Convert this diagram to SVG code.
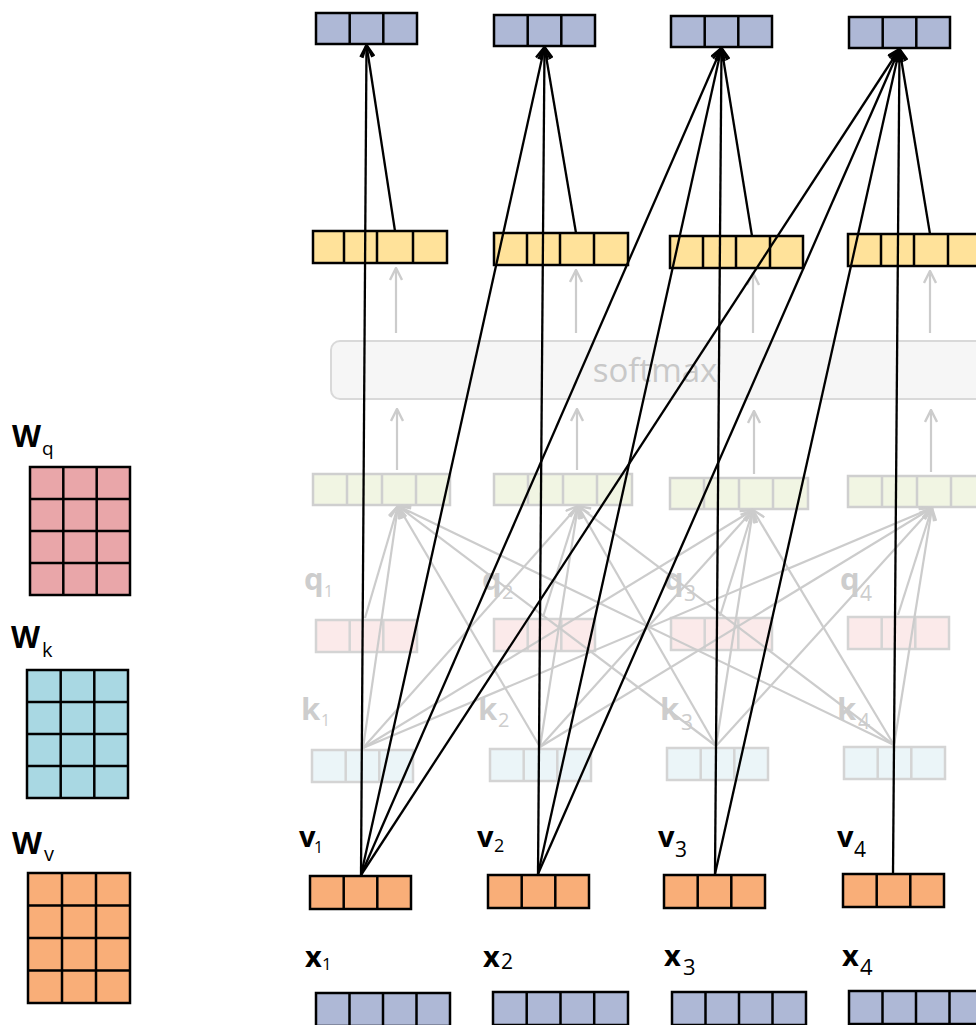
<svg xmlns="http://www.w3.org/2000/svg" width="976" height="1025" viewBox="0 0 976 1025">
<style>
.bk{stroke:#000;stroke-width:2.5}
.bl{fill:#aeb8d6}
.ye{fill:#ffe29a}
.or{fill:#f9ae78}
.pk{fill:#e9a6a9}
.cy{fill:#a9d8e3}
.fg{fill:#f1f5e3;stroke:#cfcfcf;stroke-width:2.5}
.fp{fill:#fbeaea;stroke:#d4d4d4;stroke-width:2.5}
.fk{fill:#ebf5f8;stroke:#d4d4d4;stroke-width:2.5}
.lb{font-family:"Open Sans","DejaVu Sans",sans-serif;font-weight:bold;fill:#000}
.sb{font-family:"Open Sans","DejaVu Sans",sans-serif;fill:#000}
.gl{font-family:"Open Sans","DejaVu Sans",sans-serif;font-weight:bold;fill:#cdcdcd;font-size:31px}
.gs{font-family:"Open Sans","DejaVu Sans",sans-serif;fill:#cdcdcd}
.cb line{stroke:#000;stroke-width:2.3;marker-end:url(#ab)}
.cg line{stroke:#cccccc;stroke-width:2.2;marker-end:url(#ag)}
</style>
<defs>
<marker id="ab" viewBox="0 0 14 14" refX="13" refY="7" markerWidth="14" markerHeight="14" markerUnits="userSpaceOnUse" orient="auto"><path d="M1,1 L13,7 L1,13" fill="none" stroke="#000" stroke-width="2.4"/></marker>
<marker id="ag" viewBox="0 0 14 14" refX="13" refY="7" markerWidth="14" markerHeight="14" markerUnits="userSpaceOnUse" orient="auto"><path d="M1,1 L13,7 L1,13" fill="none" stroke="#cccccc" stroke-width="2.4"/></marker>
</defs>
<rect width="976" height="1025" fill="#fff"/>

<!-- weight matrices -->
<g id="Wq">
<text class="lb" x="12" y="447" font-size="30">W</text><text class="sb" x="42" y="455" font-size="19">q</text>
<rect class="pk bk" x="30" y="467" width="100" height="128"/>
<path class="bk" fill="none" d="M63.3,467V595M96.7,467V595M30,499H130M30,531H130M30,563H130"/>
</g>
<g id="Wk">
<text class="lb" x="11" y="648" font-size="30">W</text><text class="sb" x="42" y="657" font-size="20">k</text>
<rect class="cy bk" x="27" y="670" width="101" height="128"/>
<path class="bk" fill="none" d="M60.7,670V798M94.3,670V798M27,702H128M27,734H128M27,766H128"/>
</g>
<g id="Wv">
<text class="lb" x="12" y="854" font-size="31">W</text><text class="sb" x="44" y="861" font-size="20">v</text>
<rect class="or bk" x="28" y="873" width="102" height="130"/>
<path class="bk" fill="none" d="M62,873V1003M96,873V1003M28,905.5H130M28,938H130M28,970.5H130"/>
</g>

<!-- outputs -->
<g id="y1"><rect class="bl bk" x="316" y="13" width="101" height="31"/><path class="bk" d="M349.7,13V44M383.3,13V44"/></g>
<g id="y2"><rect class="bl bk" x="494" y="15" width="101" height="31"/><path class="bk" d="M527.7,15V46M561.3,15V46"/></g>
<g id="y3"><rect class="bl bk" x="671" y="16" width="101" height="31"/><path class="bk" d="M704.7,16V47M738.3,16V47"/></g>
<g id="y4"><rect class="bl bk" x="849" y="17" width="101" height="31"/><path class="bk" d="M882.7,17V48M916.3,17V48"/></g>

<!-- weights (yellow) -->
<g id="w1"><rect class="ye bk" x="313" y="231" width="134" height="32"/><path class="bk" d="M344,231V263M377,231V263M413,231V263"/></g>
<g id="w2"><rect class="ye bk" x="494" y="233" width="134" height="32"/><path class="bk" d="M527,233V265M560,233V265M594,233V265"/></g>
<g id="w3"><rect class="ye bk" x="670" y="236" width="133" height="32"/><path class="bk" d="M703,236V268M736,236V268M770,236V268"/></g>
<g id="w4"><rect class="ye bk" x="848" y="234" width="134" height="32"/><path class="bk" d="M881,234V266M914,234V266M948,234V266"/></g>

<!-- softmax -->
<g id="softmax">
<rect x="331" y="341" width="660" height="58" rx="9" fill="#f6f6f6" stroke="#d9d9d9" stroke-width="2"/>
<text x="655" y="382" text-anchor="middle" font-family="Open Sans, DejaVu Sans, sans-serif" font-size="33" fill="#c8c8c8">softmax</text>
</g>

<!-- raw scores (green) -->
<g id="s1"><rect class="fg" x="313" y="474" width="137" height="31"/><path class="fg" d="M347,474V505M382,474V505M416,474V505"/></g>
<g id="s2"><rect class="fg" x="494" y="474" width="138" height="31"/><path class="fg" d="M528,474V505M563,474V505M597,474V505"/></g>
<g id="s3"><rect class="fg" x="670" y="478" width="138" height="31"/><path class="fg" d="M704,478V509M739,478V509M773,478V509"/></g>
<g id="s4"><rect class="fg" x="848" y="476" width="138" height="31"/><path class="fg" d="M882,476V507M917,476V507M951,476V507"/></g>

<!-- queries -->
<g id="q1"><text class="gl" x="304" y="590">q</text><text class="gs" x="324" y="597" font-size="16">1</text>
<rect class="fp" x="316" y="620" width="101" height="32"/><path class="fp" d="M349.7,620V652M383.3,620V652"/></g>
<g id="q2"><text class="gl" x="482" y="590">q</text><text class="gs" x="502" y="599" font-size="20">2</text>
<rect class="fp" x="494" y="619" width="101" height="32"/><path class="fp" d="M527.7,619V651M561.3,619V651"/></g>
<g id="q3"><text class="gl" x="664" y="590">q</text><text class="gs" x="684" y="601" font-size="21">3</text>
<rect class="fp" x="671" y="618" width="101" height="32"/><path class="fp" d="M704.7,618V650M738.3,618V650"/></g>
<g id="q4"><text class="gl" x="840" y="590">q</text><text class="gs" x="860" y="601" font-size="21">4</text>
<rect class="fp" x="848" y="617" width="101" height="32"/><path class="fp" d="M881.7,617V649M915.3,617V649"/></g>

<!-- keys -->
<g id="k1"><text class="gl" x="301" y="720">k</text><text class="gs" x="321" y="726" font-size="16">1</text>
<rect class="fk" x="312" y="750" width="101" height="32"/><path class="fk" d="M345.7,750V782M379.3,750V782"/></g>
<g id="k2"><text class="gl" x="478" y="720">k</text><text class="gs" x="498" y="727" font-size="20">2</text>
<rect class="fk" x="490" y="749" width="101" height="32"/><path class="fk" d="M523.7,749V781M557.3,749V781"/></g>
<g id="k3"><text class="gl" x="660" y="720">k</text><text class="gs" x="681" y="730" font-size="21">3</text>
<rect class="fk" x="667" y="748" width="101" height="32"/><path class="fk" d="M700.7,748V780M734.3,748V780"/></g>
<g id="k4"><text class="gl" x="837" y="720">k</text><text class="gs" x="858" y="729" font-size="21">4</text>
<rect class="fk" x="844" y="747" width="101" height="32"/><path class="fk" d="M877.7,747V779M911.3,747V779"/></g>

<!-- values -->
<g id="v1"><text class="lb" x="299" y="847" font-size="29">v</text><text class="sb" x="314" y="853" font-size="16">1</text>
<rect class="or bk" x="310" y="876" width="101" height="33"/><path class="bk" d="M343.7,876V909M377.3,876V909"/></g>
<g id="v2"><text class="lb" x="477" y="847" font-size="29">v</text><text class="sb" x="494" y="852" font-size="18">2</text>
<rect class="or bk" x="488" y="875" width="101" height="33"/><path class="bk" d="M521.7,875V908M555.3,875V908"/></g>
<g id="v3"><text class="lb" x="658" y="847" font-size="29">v</text><text class="sb" x="675" y="857" font-size="21">3</text>
<rect class="or bk" x="664" y="875" width="101" height="33"/><path class="bk" d="M697.7,875V908M731.3,875V908"/></g>
<g id="v4"><text class="lb" x="837" y="847" font-size="29">v</text><text class="sb" x="854" y="857" font-size="21">4</text>
<rect class="or bk" x="843" y="874" width="101" height="33"/><path class="bk" d="M876.7,874V907M910.3,874V907"/></g>

<!-- inputs -->
<g id="x1"><text class="lb" x="305" y="967" font-size="29">x</text><text class="sb" x="322" y="970" font-size="17">1</text>
<rect class="bl bk" x="316" y="993" width="134" height="33"/><path class="bk" d="M349.5,993V1026M383,993V1026M416.5,993V1026"/></g>
<g id="x2"><text class="lb" x="483" y="967" font-size="29">x</text><text class="sb" x="501" y="969" font-size="21">2</text>
<rect class="bl bk" x="493" y="992" width="135" height="33"/><path class="bk" d="M526.7,992V1025M560.5,992V1025M594.2,992V1025"/></g>
<g id="x3"><text class="lb" x="664" y="966" font-size="29">x</text><text class="sb" x="683" y="975" font-size="22">3</text>
<rect class="bl bk" x="672" y="992" width="134" height="33"/><path class="bk" d="M705.5,992V1025M739,992V1025M772.5,992V1025"/></g>
<g id="x4"><text class="lb" x="842" y="966" font-size="29">x</text><text class="sb" x="860" y="975" font-size="22">4</text>
<rect class="bl bk" x="849" y="991" width="134" height="33"/><path class="bk" d="M882.5,991V1024M916,991V1024M949.5,991V1024"/></g>

<!-- connectors -->
<g id="connectors">
<g class="cg">
<line x1="397" y1="470" x2="397" y2="409"/>
<line x1="577" y1="470" x2="577" y2="409"/>
<line x1="754" y1="474" x2="754" y2="411"/>
<line x1="931" y1="472" x2="931" y2="410"/>
<line x1="396" y1="333" x2="396" y2="268"/>
<line x1="576" y1="333" x2="576" y2="270"/>
<line x1="753" y1="333" x2="753" y2="273"/>
<line x1="930" y1="333" x2="930" y2="271"/>
<line x1="365" y1="618" x2="398" y2="506"/>
<line x1="543" y1="617" x2="578" y2="506"/>
<line x1="720" y1="616" x2="753" y2="510"/>
<line x1="898" y1="615" x2="932" y2="508"/>
<line x1="363" y1="748" x2="398" y2="506"/>
<line x1="363" y1="748" x2="578" y2="506"/>
<line x1="363" y1="748" x2="753" y2="510"/>
<line x1="363" y1="748" x2="932" y2="508"/>
<line x1="540" y1="747" x2="398" y2="506"/>
<line x1="540" y1="747" x2="578" y2="506"/>
<line x1="540" y1="747" x2="753" y2="510"/>
<line x1="540" y1="747" x2="932" y2="508"/>
<line x1="716" y1="746" x2="398" y2="506"/>
<line x1="716" y1="746" x2="578" y2="506"/>
<line x1="716" y1="746" x2="753" y2="510"/>
<line x1="716" y1="746" x2="932" y2="508"/>
<line x1="894" y1="745" x2="398" y2="506"/>
<line x1="894" y1="745" x2="578" y2="506"/>
<line x1="894" y1="745" x2="753" y2="510"/>
<line x1="894" y1="745" x2="932" y2="508"/>
</g>
<g class="cb">
<line x1="395" y1="231" x2="366.5" y2="45"/>
<line x1="576" y1="233" x2="544.5" y2="47"/>
<line x1="752" y1="236" x2="721.5" y2="48"/>
<line x1="930" y1="234" x2="899.5" y2="49"/>
<line x1="361" y1="875" x2="366.5" y2="45"/>
<line x1="361" y1="875" x2="544.5" y2="47"/>
<line x1="361" y1="875" x2="721.5" y2="48"/>
<line x1="361" y1="875" x2="899.5" y2="49"/>
<line x1="538" y1="874" x2="544.5" y2="47"/>
<line x1="538" y1="874" x2="721.5" y2="48"/>
<line x1="538" y1="874" x2="899.5" y2="49"/>
<line x1="715" y1="874" x2="721.5" y2="48"/>
<line x1="715" y1="874" x2="899.5" y2="49"/>
<line x1="893" y1="873" x2="899.5" y2="49"/>
</g>
</g>
</svg>
